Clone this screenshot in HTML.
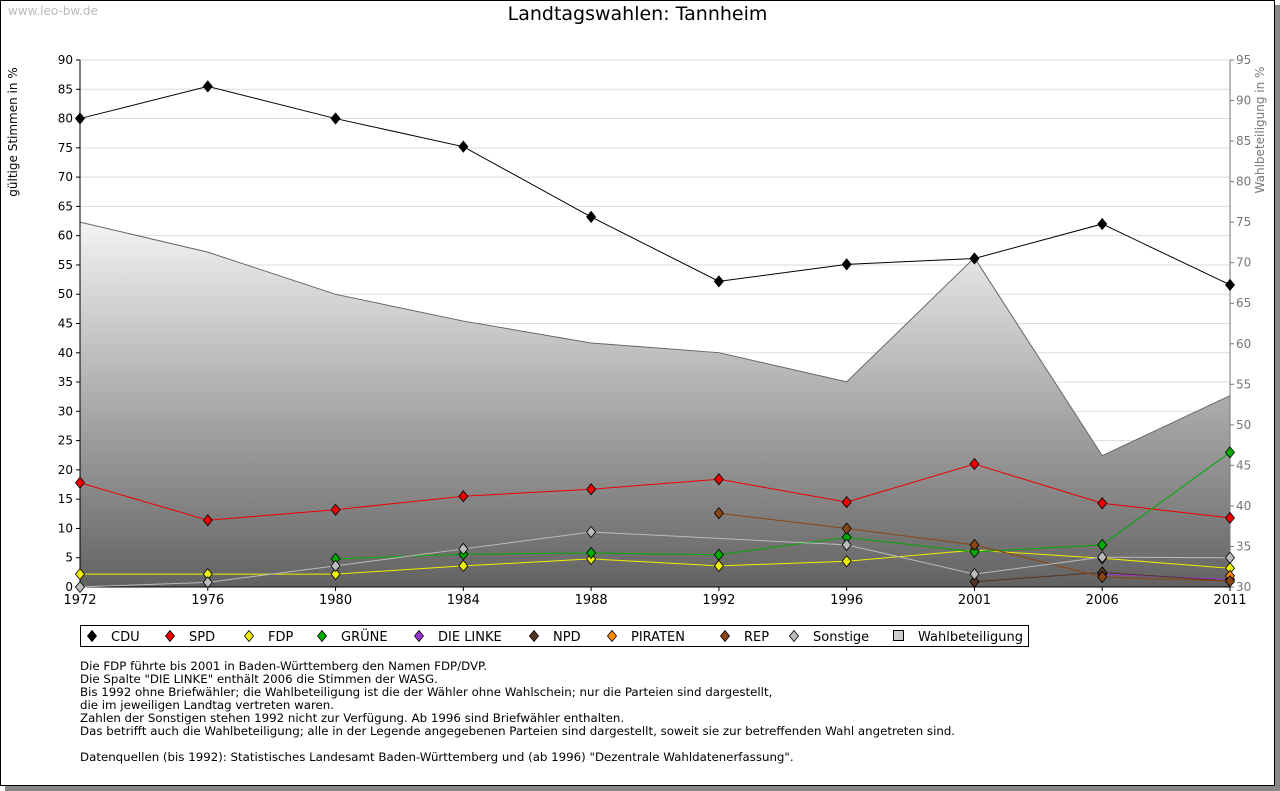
<!DOCTYPE html>
<html><head><meta charset="utf-8"><style>
body{margin:0;background:#fff;font-family:"DejaVu Sans","Liberation Sans",sans-serif;}
#wrap{position:relative;width:1280px;height:791px;overflow:hidden;}
.note{position:absolute;left:80px;font-size:11.8px;color:#000;line-height:13px;font-family:"DejaVu Sans",sans-serif;}
</style></head><body><div id="wrap">
<div style="position:absolute;left:0;top:0;width:1273px;height:784px;border:1px solid #000;box-shadow:5px 5px 0 #888;"></div>
<div style="position:absolute;left:8px;top:4px;font-size:12px;color:#bbb">www.leo-bw.de</div>
<div style="position:absolute;left:0;width:1275px;top:3px;text-align:center;font-size:19px">Landtagswahlen: Tannheim</div>
<svg id="svg" width="1280" height="791" style="position:absolute;left:0;top:0">
<defs><linearGradient id="g" x1="0" y1="225" x2="0" y2="587" gradientUnits="userSpaceOnUse"><stop offset="0" stop-color="#f2f2f2"/><stop offset="1" stop-color="#626262"/></linearGradient></defs>
</svg>
<div class="note" style="top:660px">Die FDP führte bis 2001 in Baden-Württemberg den Namen FDP/DVP.<br>Die Spalte "DIE LINKE" enthält 2006 die Stimmen der WASG.<br>Bis 1992 ohne Briefwähler; die Wahlbeteiligung ist die der Wähler ohne Wahlschein; nur die Parteien sind dargestellt,<br>die im jeweiligen Landtag vertreten waren.<br>Zahlen der Sonstigen stehen 1992 nicht zur Verfügung. Ab 1996 sind Briefwähler enthalten.<br>Das betrifft auch die Wahlbeteiligung; alle in der Legende angegebenen Parteien sind dargestellt, soweit sie zur betreffenden Wahl angetreten sind.<br><br>Datenquellen (bis 1992): Statistisches Landesamt Baden-Württemberg und (ab 1996) "Dezentrale Wahldatenerfassung".</div>
</div>
<script>
const years=["1972","1976","1980","1984","1988","1992","1996","2001","2006","2011"];
const leftTicks=[0,5,10,15,20,25,30,35,40,45,50,55,60,65,70,75,80,85,90];
const rightTicks=[30,35,40,45,50,55,60,65,70,75,80,85,90,95];
const turnout=[75.0,71.3,66.1,62.8,60.1,58.9,55.3,70.6,46.2,53.6];
const cdu=[80,85.5,80,75.2,63.2,52.2,55.1,56.1,62,51.6];
const spd=[17.8,11.4,13.2,15.5,16.7,18.4,14.5,21,14.3,11.8];
const fdp=[2.2,2.2,2.2,3.6,4.8,3.6,4.4,6.3,4.9,3.2];
const gruene=[null,null,4.8,5.6,5.8,5.5,8.5,6.0,7.2,23];
const linke=[null,null,null,null,null,null,null,null,2.2,1.3];
const npd=[null,null,null,null,null,null,null,0.9,2.5,1.0];
const piraten=[null,null,null,null,null,null,null,null,null,1.9];
const rep=[null,null,null,null,null,12.6,10,7.2,1.7,1.0];
const sonst=[0,0.8,3.6,6.5,9.4,null,7.2,2.2,5.1,5.0];
const series=[["CDU",cdu,"#000"],["SPD",spd,"#e00"],["FDP",fdp,"#ee0"],["GRÜNE",gruene,"#0a0"],["DIE LINKE",linke,"#93c"],["NPD",npd,"#553322"],["PIRATEN",piraten,"#f80"],["REP",rep,"#8b4513"],["Sonstige",sonst,"#bbb"]];
const X0=80,X1=1230,Y0=587,Y1=60;
const FF="DejaVu Sans, sans-serif";
const x=i=>X0+(X1-X0)*i/(years.length-1);
const yl=v=>Y0-(Y0-Y1)*v/90;
const yr=v=>Y0-(Y0-Y1)*(v-30)/65;
const svg=document.getElementById('svg');
const NS="http://www.w3.org/2000/svg";
function mk(t,a,p){const e=document.createElementNS(NS,t);for(const k in a)e.setAttribute(k,a[k]);(p||svg).appendChild(e);return e;}
leftTicks.forEach(v=>{if(v>0){const l=mk('line',{x1:X0,x2:X1,y1:yl(v),y2:yl(v),stroke:'#ddd'});

}
const t=mk('text',{x:X0-7,y:yl(v)+4,'text-anchor':'end','font-size':12,'font-family':FF});t.textContent=v;


mk('line',{x1:X0-4,x2:X0,y1:yl(v),y2:yl(v),stroke:'#000'});});
rightTicks.forEach(v=>{const t=mk('text',{x:X1+6,y:yr(v)+4,'font-size':12,fill:'#777','font-family':FF});t.textContent=v;


mk('line',{x1:X1,x2:X1+4,y1:yr(v),y2:yr(v),stroke:'#777'});});
let d=`M${x(0)},${Y0}`;turnout.forEach((v,i)=>d+=` L${x(i)},${yr(v)}`);d+=` L${x(turnout.length-1)},${Y0}Z`;
const ar=mk('path',{d:d,fill:'url(#g)',stroke:'none'});


let d2='';turnout.forEach((v,i)=>d2+=(i?' L':'M')+x(i)+','+yr(v));
mk('path',{d:d2,fill:'none',stroke:'#666'});
mk('line',{x1:X0,x2:X0,y1:Y1,y2:Y0,stroke:'#000'});
mk('line',{x1:X1,x2:X1,y1:Y1,y2:Y0,stroke:'#777'});
mk('line',{x1:X0,x2:X1,y1:Y0,y2:Y0,stroke:'#000'});
years.forEach((yy,i)=>{mk('line',{x1:x(i),x2:x(i),y1:Y0,y2:Y0+4,stroke:'#000'});
const t=mk('text',{x:x(i),y:Y0+17,'text-anchor':'middle','font-size':13,'font-family':FF});t.textContent=yy;

});
const lt=mk('text',{transform:'translate(17,132) rotate(-90)','text-anchor':'middle','font-size':12,'font-family':FF});lt.textContent='gültige Stimmen in %';


const rt=mk('text',{transform:'translate(1264,130) rotate(-90)','text-anchor':'middle','font-size':12,fill:'#777','font-family':FF});rt.textContent='Wahlbeteiligung in %';


function diamond(cx,cy,col,p){return mk('path',{d:`M${cx},${cy-5.5} Q${cx+2.5},${cy-2.5} ${cx+4.5},${cy} Q${cx+2.5},${cy+2.5} ${cx},${cy+5.5} Q${cx-2.5},${cy+2.5} ${cx-4.5},${cy} Q${cx-2.5},${cy-2.5} ${cx},${cy-5.5}Z`,fill:col,stroke:'#000','stroke-width':0.8},p);}
series.forEach(([n,vals,col])=>{
const g=mk('g',{});


let pd='';let started=false;
vals.forEach((v,i)=>{if(v==null)return;pd+=(started?' L':'M')+x(i)+','+yl(v);started=true;});
mk('path',{d:pd,fill:'none',stroke:col,'stroke-width':1},g);
vals.forEach((v,i)=>{if(v==null)return;const m=diamond(x(i),yl(v),col,g);

});
});
const lg=mk('g',{});


mk('rect',{x:80.5,y:625.5,width:948,height:21,fill:'#fff',stroke:'#000'},lg);
const lx=[92,170,249,322,419,534,612,725,794];
series.forEach(([n,v,col],i)=>{diamond(lx[i],636,col,lg);
const t=mk('text',{x:lx[i]+19,y:641,'font-size':13,'font-family':FF},lg);t.textContent=n;

});
mk('rect',{x:893.5,y:630.5,width:10,height:10,fill:'#ccc',stroke:'#000'},lg);
const wt=mk('text',{x:918,y:641,'font-size':13,'font-family':FF},lg);wt.textContent='Wahlbeteiligung';


</script></body></html>
